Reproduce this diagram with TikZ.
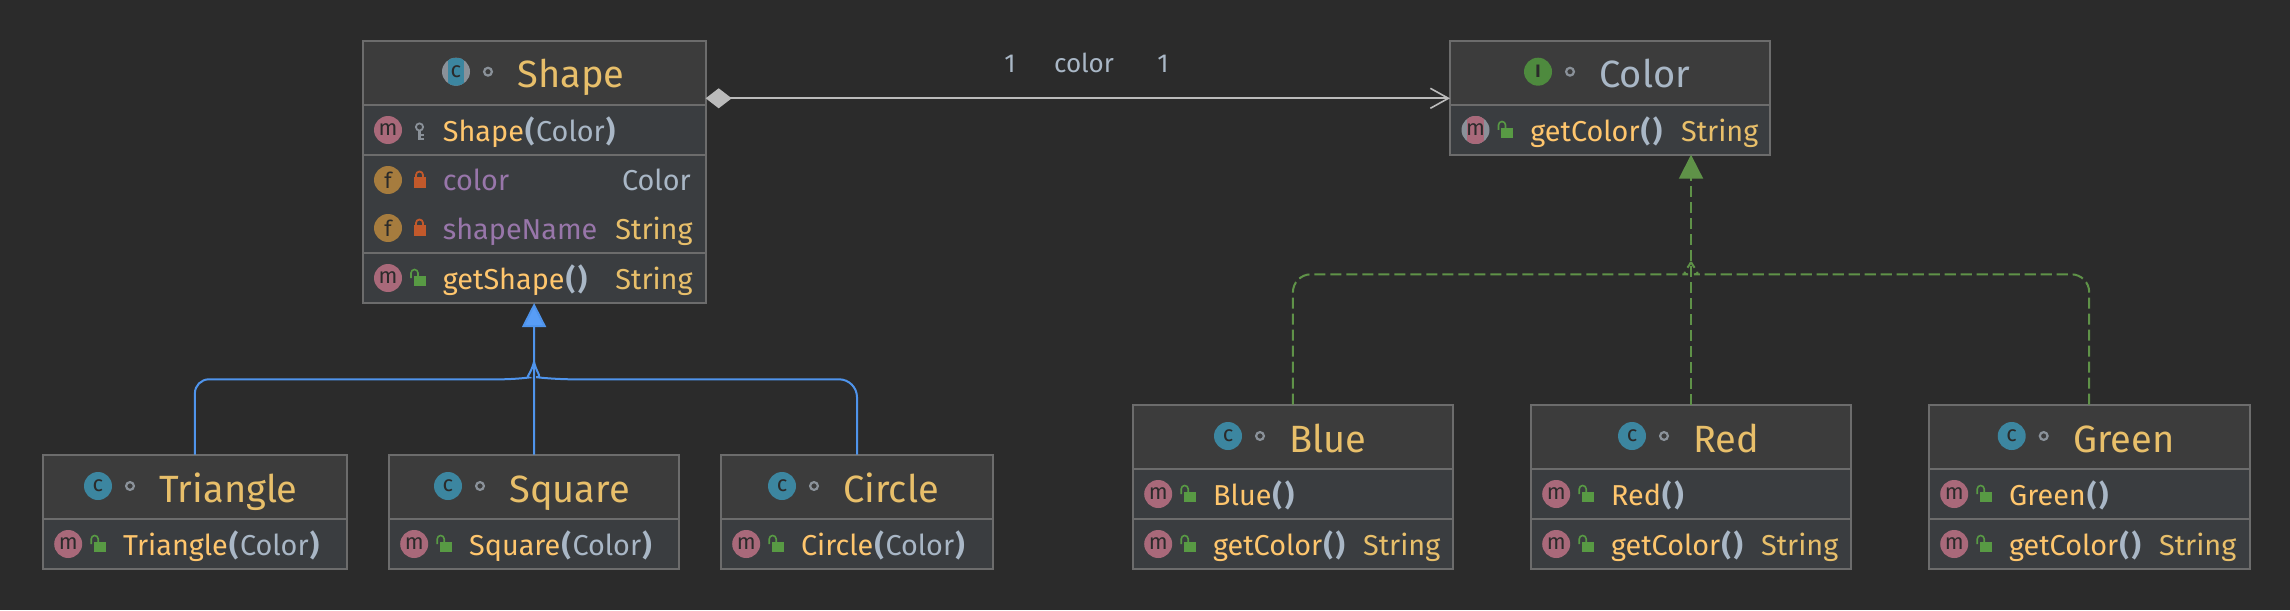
\documentclass[tikz,border=0pt]{standalone}
\usepackage{fontspec}
\setmainfont{Fira Sans}
\usetikzlibrary{calc, arrows.meta}

\definecolor{canvas}{HTML}{2B2B2B}
\definecolor{titlefill}{HTML}{3C3C3C}
\definecolor{rowfill}{HTML}{3A3D40}
\definecolor{boxline}{HTML}{6C6C6C}
\definecolor{nameorange}{HTML}{E8BF6A}
\definecolor{memberorange}{HTML}{FFC66D}
\definecolor{typeblue}{HTML}{A9B7C6}
\definecolor{fieldpurple}{HTML}{9876AA}
\definecolor{classteal}{HTML}{3C86A0}
\definecolor{methodpink}{HTML}{A9697A}
\definecolor{fieldbrown}{HTML}{A67C3E}
\definecolor{ifacegreen}{HTML}{4E8A3E}
\definecolor{lockgreen}{HTML}{589A44}
\definecolor{lockred}{HTML}{C2592B}
\definecolor{ringgrey}{HTML}{8A9199}
\definecolor{extendblue}{HTML}{4F94EC}
\definecolor{arrowblue}{HTML}{589DF6}
\definecolor{realizegreen}{HTML}{5F9248}
\definecolor{assocgrey}{HTML}{BBBBBB}

\tikzset{
    umlbox/.style={rectangle, draw=boxline, fill=rowfill, line width=1pt, inner sep=0pt, outer sep=0pt, anchor=north,
        path picture={\fill[titlefill] (path picture bounding box.north west) rectangle ([yshift=-32pt]path picture bounding box.north east);}},
    sepline/.style={draw=boxline, line width=1pt},
    titletext/.style={anchor=base west, inner sep=0pt, font=\fontsize{19}{23}\selectfont, text=nameorange},
    membertext/.style={anchor=base west, inner sep=0pt, font=\fontsize{14.4}{17}\selectfont, text=memberorange},
    assoclabel/.style={anchor=base, inner sep=0pt, font=\fontsize{13}{15}\selectfont, text=typeblue},
    iconbase/.style={circle, inner sep=0pt, minimum size=14pt, text=canvas, font=\fontsize{11}{13}\selectfont},
    classicon/.style={iconbase, fill=classteal},
    ifaceicon/.style={iconbase, fill=ifacegreen, font=\fontsize{9}{11}\selectfont\bfseries},
    methodicon/.style={iconbase, fill=methodpink},
    fieldicon/.style={iconbase, fill=fieldbrown},
    bandicon/.style={iconbase, fill=ringgrey, path picture={\fill[#1] ([xshift=-4.2pt]path picture bounding box.south) rectangle ([xshift=4.2pt]path picture bounding box.north);}},
    ringmark/.style={circle, draw=ringgrey, line width=1.1pt, inner sep=0pt, minimum size=3.9pt},
    extendline/.style={draw=extendblue, line width=1pt},
    realizeline/.style={draw=realizegreen, line width=1pt, dash pattern=on 5.6pt off 2.4pt},
    assocline/.style={draw=assocgrey, line width=0.8pt, {Diamond[length=13pt,width=10pt,fill=assocgrey]}-{Straight Barb[length=9pt,width=10pt]}},
    openlock/.pic={
        \fill[lockgreen] (-6,-2) rectangle (6,8);
        \draw[lockgreen, line width=0.8pt] (-8.5,0) -- (-8.5,-5) arc[start angle=180, end angle=360, radius=3.5] -- (-1.5,-2);
    },
    closedlock/.pic={
        \fill[lockred] (-6,-3) rectangle (6,8);
        \draw[lockred, line width=0.9pt] (-3.5,-3) -- (-3.5,-5) arc[start angle=180, end angle=360, radius=3.5] -- (3.5,-3);
    },
    keymark/.pic={
        \draw[ringgrey, line width=0.9pt] (0,-3) circle[radius=3.6];
        \draw[ringgrey, line width=1.2pt] (0,1) -- (0,10) (0,5) -- (4,5) (0,9) -- (4,9);
    }
}

% title line of a box: name, icon style, letter, icon x, y, text
\newcommand{\boxtitle}[6]{
    \node[#2] (#1icon) at (#4,#5) {#3};
    \node[ringmark] (#1ring) at ($(#1icon) + (32,0)$) {};
    \node[titletext] (#1name) at ($(#1icon) + (61,16)$) {#6};
}
% member line: name, icon style, letter, visibility pic, left x, y, text
\newcommand{\memberrow}[7]{
    \node[#2] (#1icon) at ($(#5,#6) + (25.5,0)$) {#3};
    \pic at ($(#5,#6) + (57,0)$) {#4};
    \node[membertext] (#1text) at ($(#5,#6) + (80,11)$) {#7};
}
\newcommand{\rowsep}[2]{\draw[sepline] (#1.west |- 0,#2) -- (#1.east |- 0,#2);}
\newcommand{\plist}[1]{\textcolor{typeblue}{\kern0.6pt\textbf{(}\kern0.8pt#1\kern0.6pt\textbf{)}}}

\begin{document}
\begin{tikzpicture}[x=0.5pt, y=-0.5pt]
    \fill[canvas] (0,0) rectangle (2290,610);
    \useasboundingbox (0,0) rectangle (2290,610);

    % boxes
    \node[umlbox, minimum width=171.6pt, minimum height=131.2pt] (shape) at (534.1,40.7) {};
    \node[umlbox, minimum width=160pt, minimum height=57pt] (color) at (1610,40.7) {};
    \node[umlbox, minimum width=152.2pt, minimum height=57.2pt] (triangle) at (194.9,454.7) {};
    \node[umlbox, minimum width=145.2pt, minimum height=57.2pt] (square) at (534,454.7) {};
    \node[umlbox, minimum width=136.4pt, minimum height=57.2pt] (circle) at (857,454.7) {};
    \node[umlbox, minimum width=160.2pt, minimum height=82.2pt] (blue) at (1292.9,404.7) {};
    \node[umlbox, minimum width=160.4pt, minimum height=82.2pt] (red) at (1691,404.7) {};
    \node[umlbox, minimum width=160.4pt, minimum height=82.2pt] (green) at (2089.2,404.7) {};

    \rowsep{shape}{105} \rowsep{shape}{155} \rowsep{shape}{253}
    \rowsep{color}{105}
    \rowsep{triangle}{519} \rowsep{square}{519} \rowsep{circle}{519}
    \rowsep{blue}{469} \rowsep{blue}{518.7}
    \rowsep{red}{469} \rowsep{red}{518.7}
    \rowsep{green}{469} \rowsep{green}{518.7}

    % titles
    \boxtitle{shapehead}{bandicon=classteal}{c}{456}{71.7}{Shape}
    \boxtitle{colorhead}{ifaceicon}{I}{1538}{71.7}{\textcolor{typeblue}{Color}}
    \boxtitle{trianglehead}{classicon}{c}{98}{486}{Triangle}
    \boxtitle{squarehead}{classicon}{c}{448}{486}{Square}
    \boxtitle{circlehead}{classicon}{c}{782}{486}{Circle}
    \boxtitle{bluehead}{classicon}{c}{1228}{436}{Blue}
    \boxtitle{redhead}{classicon}{c}{1632}{436}{Red}
    \boxtitle{greenhead}{classicon}{c}{2011.7}{436}{Green}

    % members
    \memberrow{shapector}{methodicon}{m}{keymark}{362.5}{130}{Shape\plist{Color}}
    \memberrow{shapecolor}{fieldicon}{f}{closedlock}{362.5}{180}{\textcolor{fieldpurple}{color}}
    \node[membertext, text=typeblue] (shapecolortype) at (621.7,191) {Color};
    \memberrow{shapename}{fieldicon}{f}{closedlock}{362.5}{228}{\textcolor{fieldpurple}{shapeName}}
    \node[membertext, text=nameorange] (shapenametype) at (615,239) {String};
    \memberrow{getshape}{methodicon}{m}{openlock}{362.5}{278}{getShape\plist{}}
    \node[membertext, text=nameorange] (getshapetype) at (615,289) {String};

    \memberrow{getcolor}{bandicon=methodpink}{m}{openlock}{1450}{130}{getColor\plist{}}
    \node[membertext, text=nameorange] (getcolortype) at (1680.7,141) {String};

    \memberrow{trianglector}{methodicon}{m}{openlock}{42.7}{544}{Triangle\plist{Color}}
    \memberrow{squarector}{methodicon}{m}{openlock}{388.7}{544}{Square\plist{Color}}
    \memberrow{circlector}{methodicon}{m}{openlock}{720.7}{544}{Circle\plist{Color}}

    \memberrow{bluector}{methodicon}{m}{openlock}{1132.7}{494}{Blue\plist{}}
    \memberrow{bluecolor}{methodicon}{m}{openlock}{1132.7}{544}{getColor\plist{}}
    \node[membertext, text=nameorange] (bluetype) at (1362.7,555) {String};
    \memberrow{redctor}{methodicon}{m}{openlock}{1530.7}{494}{Red\plist{}}
    \memberrow{redcolor}{methodicon}{m}{openlock}{1530.7}{544}{getColor\plist{}}
    \node[membertext, text=nameorange] (redtype) at (1760.7,555) {String};
    \memberrow{greenctor}{methodicon}{m}{openlock}{1928.7}{494}{Green\plist{}}
    \memberrow{greencolor}{methodicon}{m}{openlock}{1928.7}{544}{getColor\plist{}}
    \node[membertext, text=nameorange] (greentype) at (2158.7,555) {String};

    % association
    \draw[assocline] ([yshift=-28.8pt]shape.north east) -- ([yshift=-28.8pt]color.north west);
    \node[assoclabel] (assocleft) at (1010,72.7) {1};
    \node[assoclabel] (assocname) at (1084,72.7) {color};
    \node[assoclabel] (assocright) at (1163,72.7) {1};

    % inheritance
    \coordinate (extendjoin) at (534,362);
    \draw[extendline] (triangle.north) [rounded corners=7pt] |- (515,379.3) [sharp corners] .. controls (525,378) and (531,374) .. (extendjoin);
    \draw[extendline] (circle.north) [rounded corners=9pt] |- (554,379.3) [sharp corners] .. controls (543,378) and (537,374) .. (extendjoin);
    \draw[extendline, -{Triangle[length=12pt,width=12pt,fill=arrowblue]}] (square.north) -- (shape.south);

    % realization
    \coordinate (realizejoin) at (1691,262);
    \draw[realizeline] (blue.north) [rounded corners=9pt] |- (1670,274.3) [sharp corners] .. controls (1680,274.3) and (1687,270) .. (realizejoin);
    \draw[realizeline] (green.north) [rounded corners=9pt] |- (1712,274.3) [sharp corners] .. controls (1702,274.3) and (1695,270) .. (realizejoin);
    \draw[realizeline, -{Triangle[length=12pt,width=12pt,fill=realizegreen]}] (red.north) -- (red.north |- color.south);
\end{tikzpicture}
\end{document}
